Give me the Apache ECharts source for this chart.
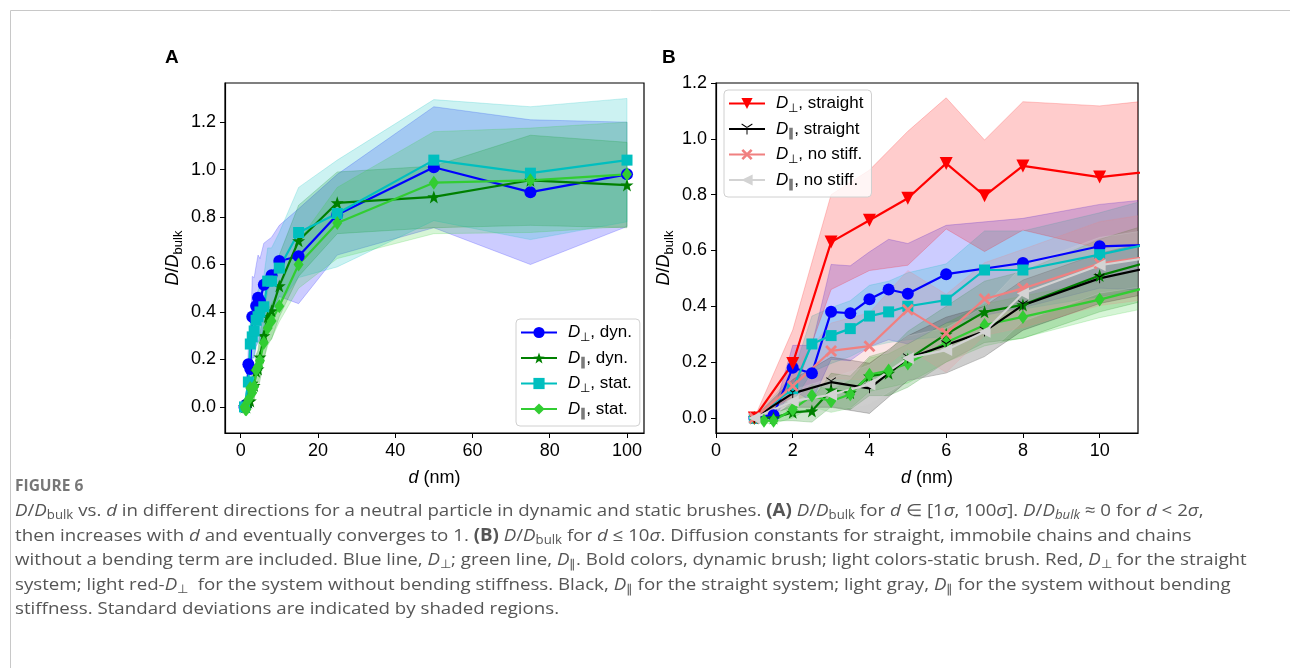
<!DOCTYPE html>
<html lang="en">
<head>
    <meta charset="UTF-8">
    <title>Figure 6</title>
    <script src="https://cdn.jsdelivr.net/npm/echarts@6/dist/echarts.min.js"></script>
</head>
<style>
    body{
        margin: 0;
        padding: 0;
        background: #fff;
    }
</style>
<body>
<div id="main" style="width: 1290px;height:668px"></div>
<script>
    // d (nm) values and D/Dbulk, sd = shaded half width
    var perpDynX = [1, 1.5, 2, 2.5, 3, 3.5, 4, 4.5, 5, 6, 8, 10, 15, 25, 50, 75, 100];
    var perpDynY = [0, 0.01, 0.18, 0.16, 0.38, 0.375, 0.425, 0.46, 0.445, 0.515, 0.555, 0.615, 0.635, 0.81, 1.01, 0.905, 0.98];
    var perpDynSd = [0, 0.01, 0.08, 0.1, 0.17, 0.17, 0.17, 0.18, 0.18, 0.175, 0.16, 0.15, 0.2, 0.17, 0.255, 0.305, 0.22];

    var parDynX = [1, 1.5, 2, 2.5, 3, 3.5, 4, 4.5, 5, 6, 7, 8, 10, 15, 25, 50, 75, 100];
    var parDynY = [0, 0, 0.02, 0.025, 0.1, 0.09, 0.15, 0.16, 0.21, 0.3, 0.38, 0.405, 0.51, 0.7, 0.86, 0.885, 0.955, 0.935];
    var parDynSd = [0, 0.01, 0.03, 0.04, 0.06, 0.06, 0.07, 0.08, 0.1, 0.1, 0.11, 0.12, 0.13, 0.15, 0.13, 0.13, 0.19, 0.18];

    var perpStatX = [1, 2, 2.5, 3, 3.5, 4, 4.5, 5, 6, 7, 8, 10, 15, 25, 50, 75, 100];
    var perpStatY = [0, 0.105, 0.265, 0.295, 0.32, 0.365, 0.38, 0.4, 0.422, 0.53, 0.53, 0.585, 0.735, 0.815, 1.04, 0.985, 1.04];
    var perpStatSd = [0, 0.05, 0.1, 0.1, 0.1, 0.11, 0.11, 0.12, 0.13, 0.14, 0.14, 0.15, 0.19, 0.225, 0.255, 0.28, 0.26];

    var parStatX = [1, 1.25, 1.5, 2, 2.5, 3, 3.5, 4, 4.5, 5, 6, 7, 8, 10, 15, 25, 50, 75, 100];
    var parStatY = [0, -0.01, -0.01, 0.03, 0.08, 0.06, 0.085, 0.155, 0.17, 0.195, 0.27, 0.333, 0.362, 0.424, 0.6, 0.775, 0.945, 0.955, 0.98];
    var parStatSd = [0, 0.01, 0.01, 0.03, 0.04, 0.04, 0.05, 0.06, 0.06, 0.07, 0.07, 0.075, 0.075, 0.065, 0.1, 0.15, 0.215, 0.22, 0.22];

    var otherX = [1, 2, 3, 4, 5, 6, 7, 8, 10, 15];
    var strPerpY = [0, 0.195, 0.63, 0.708, 0.787, 0.912, 0.796, 0.903, 0.863, 0.94];
    var strPerpSd = [0, 0.12, 0.17, 0.18, 0.24, 0.235, 0.2, 0.23, 0.255, 0.25];
    var strParY = [0, 0.088, 0.128, 0.106, 0.214, 0.261, 0.31, 0.404, 0.5, 0.65];
    var strParSd = [0, 0.05, 0.09, 0.09, 0.08, 0.1, 0.09, 0.09, 0.09, 0.1];
    var noStiffPerpY = [0, 0.114, 0.24, 0.257, 0.388, 0.303, 0.426, 0.464, 0.553, 0.65];
    var noStiffPerpSd = [0, 0.06, 0.1, 0.12, 0.14, 0.14, 0.13, 0.14, 0.15, 0.16];
    var noStiffParY = [0, 0.06, 0.083, 0.12, 0.214, 0.243, 0.309, 0.446, 0.547, 0.65];
    var noStiffParSd = [0, 0.04, 0.06, 0.07, 0.08, 0.08, 0.09, 0.1, 0.1, 0.1];

    var xTicksA = [0, 20, 40, 60, 80, 100];
    var xTicksB = [0, 2, 4, 6, 8, 10];
    var yTicks = [0, 0.2, 0.4, 0.6, 0.8, 1.0, 1.2];

    var namesA = ['D⊥, dyn.', 'D∥, dyn.', 'D⊥, stat.', 'D∥, stat.'];
    var namesB = ['D⊥, straight', 'D∥, straight', 'D⊥, no stiff.', 'D∥, no stiff.'];

    var FONT = 'Liberation Sans, Arial, sans-serif';
    var star = 'path://M0,-10 L2.35,-3.24 L9.51,-3.09 L3.8,1.24 L5.88,8.09 L0,4 L-5.88,8.09 L-3.8,1.24 L-9.51,-3.09 L-2.35,-3.24 Z';
    var triDown = 'path://M-0.8,0 L-0.8,10 L0.8,10 L0.8,0 Z M0.4,-0.69 L-8.26,-5.69 L-9.06,-4.31 L-0.4,0.69 Z M-0.4,-0.69 L8.26,-5.69 L9.06,-4.31 L0.4,0.69 Z';
    var fatX = 'path://M-4,-6 L0,-2 L4,-6 L6,-4 L2,0 L6,4 L4,6 L0,2 L-4,6 L-6,4 L-2,0 L-6,-4 Z';

    function band(name, xs, ys, sd, color, gi) {
        var rows = xs.map(function (x, i) { return [x, ys[i] - sd[i], ys[i] + sd[i]]; });
        return {
            type: 'custom', name: name, xAxisIndex: gi, yAxisIndex: gi, silent: true, z: 1,
            data: rows,
            encode: {x: 0, y: [1, 2]},
            renderItem: function (params, api) {
                if (params.dataIndex !== 0) return;
                var pts = [];
                for (var i = 0; i < rows.length; i++) pts.push(api.coord([rows[i][0], rows[i][2]]));
                for (var j = rows.length - 1; j >= 0; j--) pts.push(api.coord([rows[j][0], rows[j][1]]));
                var cs = params.coordSys;
                return {
                    type: 'polygon',
                    shape: {points: pts},
                    style: {fill: color, stroke: color, lineWidth: 1},
                    clipPath: {type: 'rect', shape: {x: cs.x, y: cs.y, width: cs.width, height: cs.height}}
                };
            }
        };
    }

    function line(name, xs, ys, color, symbol, size, rot, gi) {
        return {
            type: 'line', name: name, xAxisIndex: gi, yAxisIndex: gi, z: 3,
            data: xs.map(function (x, i) { return [x, ys[i]]; }),
            symbol: symbol, symbolSize: size, symbolRotate: rot || 0,
            showAllSymbol: true,
            lineStyle: {color: color, width: 2.2},
            itemStyle: {color: color},
            clip: true
        };
    }

    var series = [
        band('bA1', perpDynX, perpDynY, perpDynSd, 'rgba(0,0,255,0.2)', 0),
        band('bA2', parDynX, parDynY, parDynSd, 'rgba(0,128,0,0.2)', 0),
        band('bA3', perpStatX, perpStatY, perpStatSd, 'rgba(0,191,191,0.2)', 0),
        band('bA4', parStatX, parStatY, parStatSd, 'rgba(50,205,50,0.2)', 0),
        line(namesA[0], perpDynX, perpDynY, '#0000ff', 'circle', 12, 0, 0),
        line(namesA[1], parDynX, parDynY, '#008000', star, 13, 0, 0),
        line(namesA[2], perpStatX, perpStatY, '#00bfbf', 'rect', 11, 0, 0),
        line(namesA[3], parStatX, parStatY, '#32cd32', 'diamond', [10, 14], 0, 0),

        band('bB1', perpDynX, perpDynY, perpDynSd, 'rgba(0,0,255,0.2)', 1),
        band('bB2', parDynX, parDynY, parDynSd, 'rgba(0,128,0,0.2)', 1),
        band('bB3', perpStatX, perpStatY, perpStatSd, 'rgba(0,191,191,0.2)', 1),
        band('bB4', parStatX, parStatY, parStatSd, 'rgba(50,205,50,0.2)', 1),
        band('bB5', otherX, strPerpY, strPerpSd, 'rgba(255,0,0,0.2)', 1),
        band('bB6', otherX, strParY, strParSd, 'rgba(0,0,0,0.2)', 1),
        band('bB7', otherX, noStiffPerpY, noStiffPerpSd, 'rgba(240,128,128,0.2)', 1),
        band('bB8', otherX, noStiffParY, noStiffParSd, 'rgba(211,211,211,0.25)', 1),
        line('B ' + namesA[0], perpDynX, perpDynY, '#0000ff', 'circle', 12, 0, 1),
        line('B ' + namesA[1], parDynX, parDynY, '#008000', star, 13, 0, 1),
        line('B ' + namesA[2], perpStatX, perpStatY, '#00bfbf', 'rect', 11, 0, 1),
        line('B ' + namesA[3], parStatX, parStatY, '#32cd32', 'diamond', [10, 14], 0, 1),
        line(namesB[0], otherX, strPerpY, '#ff0000', 'triangle', 13, 180, 1),
        line(namesB[1], otherX, strParY, '#000000', triDown, 10, 0, 1),
        line(namesB[2], otherX, noStiffPerpY, '#f08080', fatX, 12, 0, 1),
        line(namesB[3], otherX, noStiffParY, '#d3d3d3', 'triangle', 12, 90, 1)
    ];

    var legendRich = {
        i: {fontFamily: FONT, fontStyle: 'italic', fontSize: 17, lineHeight: 22, padding: [0, 0, 0, 6]},
        s: {fontFamily: FONT, fontSize: 12, lineHeight: 12, verticalAlign: 'bottom'},
        t: {fontFamily: FONT, fontSize: 17, lineHeight: 22}
    };
    function legendFmt(name) {
        return '{i|D}{s|' + name.charAt(1) + '}{t|' + name.slice(2) + '}';
    }
    function legend(data, left, top) {
        return {
            data: data, orient: 'vertical', left: left, top: top,
            itemWidth: 36, itemHeight: 14, itemGap: 6,
            padding: [5, 8, 6, 4],
            backgroundColor: 'rgba(255,255,255,0.8)', borderColor: '#d0d0d0', borderWidth: 1, borderRadius: 4,
            formatter: legendFmt,
            textStyle: {color: '#000', fontSize: 17, fontFamily: FONT, rich: legendRich},
            selectedMode: false
        };
    }

    var nameRich = {
        i: {fontFamily: FONT, fontStyle: 'italic', fontSize: 18, lineHeight: 24},
        s: {fontFamily: FONT, fontSize: 13, lineHeight: 13, verticalAlign: 'bottom'},
        t: {fontFamily: FONT, fontSize: 18, lineHeight: 24}
    };

    function xAxis(gi, min, max, ticks) {
        return {
            type: 'value', gridIndex: gi, min: min, max: max,
            name: '{i|d}{t| (nm)}', nameLocation: 'middle', nameGap: 33,
            nameTextStyle: {color: '#000', rich: nameRich},
            axisLine: {onZero: false, lineStyle: {color: '#000', width: 1.2}},
            axisTick: {customValues: ticks, length: 5, lineStyle: {color: '#000'}},
            axisLabel: {customValues: ticks, color: '#000', fontSize: 18, fontFamily: FONT, margin: 9},
            splitLine: {show: false}
        };
    }
    function yAxis(gi, min, max) {
        return {
            type: 'value', gridIndex: gi, min: min, max: max,
            name: '{i|D}{t|/}{i|D}{s|bulk}', nameLocation: 'middle', nameGap: 40, nameRotate: 90,
            nameTextStyle: {color: '#000', rich: nameRich},
            axisLine: {onZero: false, lineStyle: {color: '#000', width: 1.2}},
            axisTick: {customValues: yTicks, length: 5, lineStyle: {color: '#000'}},
            axisLabel: {customValues: yTicks, color: '#000', fontSize: 18, fontFamily: FONT, margin: 9,
                formatter: function (v) { return v.toFixed(1); }},
            splitLine: {show: false}
        };
    }

    var CAP = 'Open Sans';
    var capRich = {
        i: {fontStyle: 'italic', fontSize: 17, lineHeight: 22, fontFamily: CAP, fill: '#555'},
        b: {fontWeight: 'bold', fontSize: 17, lineHeight: 22, fontFamily: CAP, fill: '#555'},
        s: {fontSize: 12, lineHeight: 12, verticalAlign: 'bottom', fontFamily: CAP, fill: '#555'},
        si: {fontSize: 12, lineHeight: 12, verticalAlign: 'bottom', fontStyle: 'italic', fontFamily: CAP, fill: '#555'}
    };
    var captionLines = [
        '{i|D}/{i|D}{s|bulk} vs. {i|d} in different directions for a neutral particle in dynamic and static brushes. {b|(A)} {i|D}/{i|D}{s|bulk} for {i|d} ∈ [1{i|σ}, 100{i|σ}]. {i|D}/{i|D}{si|bulk} ≈ 0 for {i|d} < 2{i|σ},',
        'then increases with {i|d} and eventually converges to 1. {b|(B)} {i|D}/{i|D}{s|bulk} for {i|d} ≤ 10{i|σ}. Diffusion constants for straight, immobile chains and chains',
        'without a bending term are included. Blue line, {i|D}{s|⊥}; green line, {i|D}{s|∥}. Bold colors, dynamic brush; light colors-static brush. Red, {i|D}{s|⊥} for the straight',
        'system; light red-{i|D}{s|⊥}  for the system without bending stiffness. Black, {i|D}{s|∥} for the straight system; light gray, {i|D}{s|∥} for the system without bending',
        'stiffness. Standard deviations are indicated by shaded regions.'
    ];
    var captionTop = [500, 525, 549, 574, 598];

    var graphics = [
        {type: 'rect', left: 8, top: 8, shape: {width: 1300, height: 700},
            style: {fill: 'none', stroke: '#c8c8c8', lineWidth: 1}, silent: true},
        {type: 'text', left: 165, top: 48, style: {text: 'A', font: 'bold 19px Liberation Sans', fill: '#000'}},
        {type: 'text', left: 662, top: 48, style: {text: 'B', font: 'bold 19px Liberation Sans', fill: '#000'}},
        {type: 'text', left: 15, top: 479, style: {text: 'FIGURE 6', font: 'bold 15.5px Open Sans', fill: '#777'}}
    ];
    captionLines.forEach(function (t, k) {
        graphics.push({type: 'text', left: 15, top: captionTop[k], originX: 0, originY: 0, scaleX: 1.1,
            style: {text: t, font: '17px ' + CAP, fill: '#555', lineHeight: 22, rich: capRich}});
    });

    var chart = echarts.init(document.getElementById('main'));
    chart.setOption({
        animation: false,
        backgroundColor: '#fff',
        grid: [
            {left: 225, top: 83, width: 419, height: 350, show: true, borderColor: '#000', borderWidth: 1.2},
            {left: 716, top: 83, width: 422, height: 350, show: true, borderColor: '#000', borderWidth: 1.2}
        ],
        xAxis: [xAxis(0, -4.05, 104.4, xTicksA), xAxis(1, 0, 11, xTicksB)],
        yAxis: [yAxis(0, -0.11, 1.365), yAxis(1, -0.054, 1.2)],
        legend: [legend(namesA, 516, 319), legend(namesB, 724, 90)],
        graphic: graphics,
        series: series
    });
</script>
</body>
</html>
